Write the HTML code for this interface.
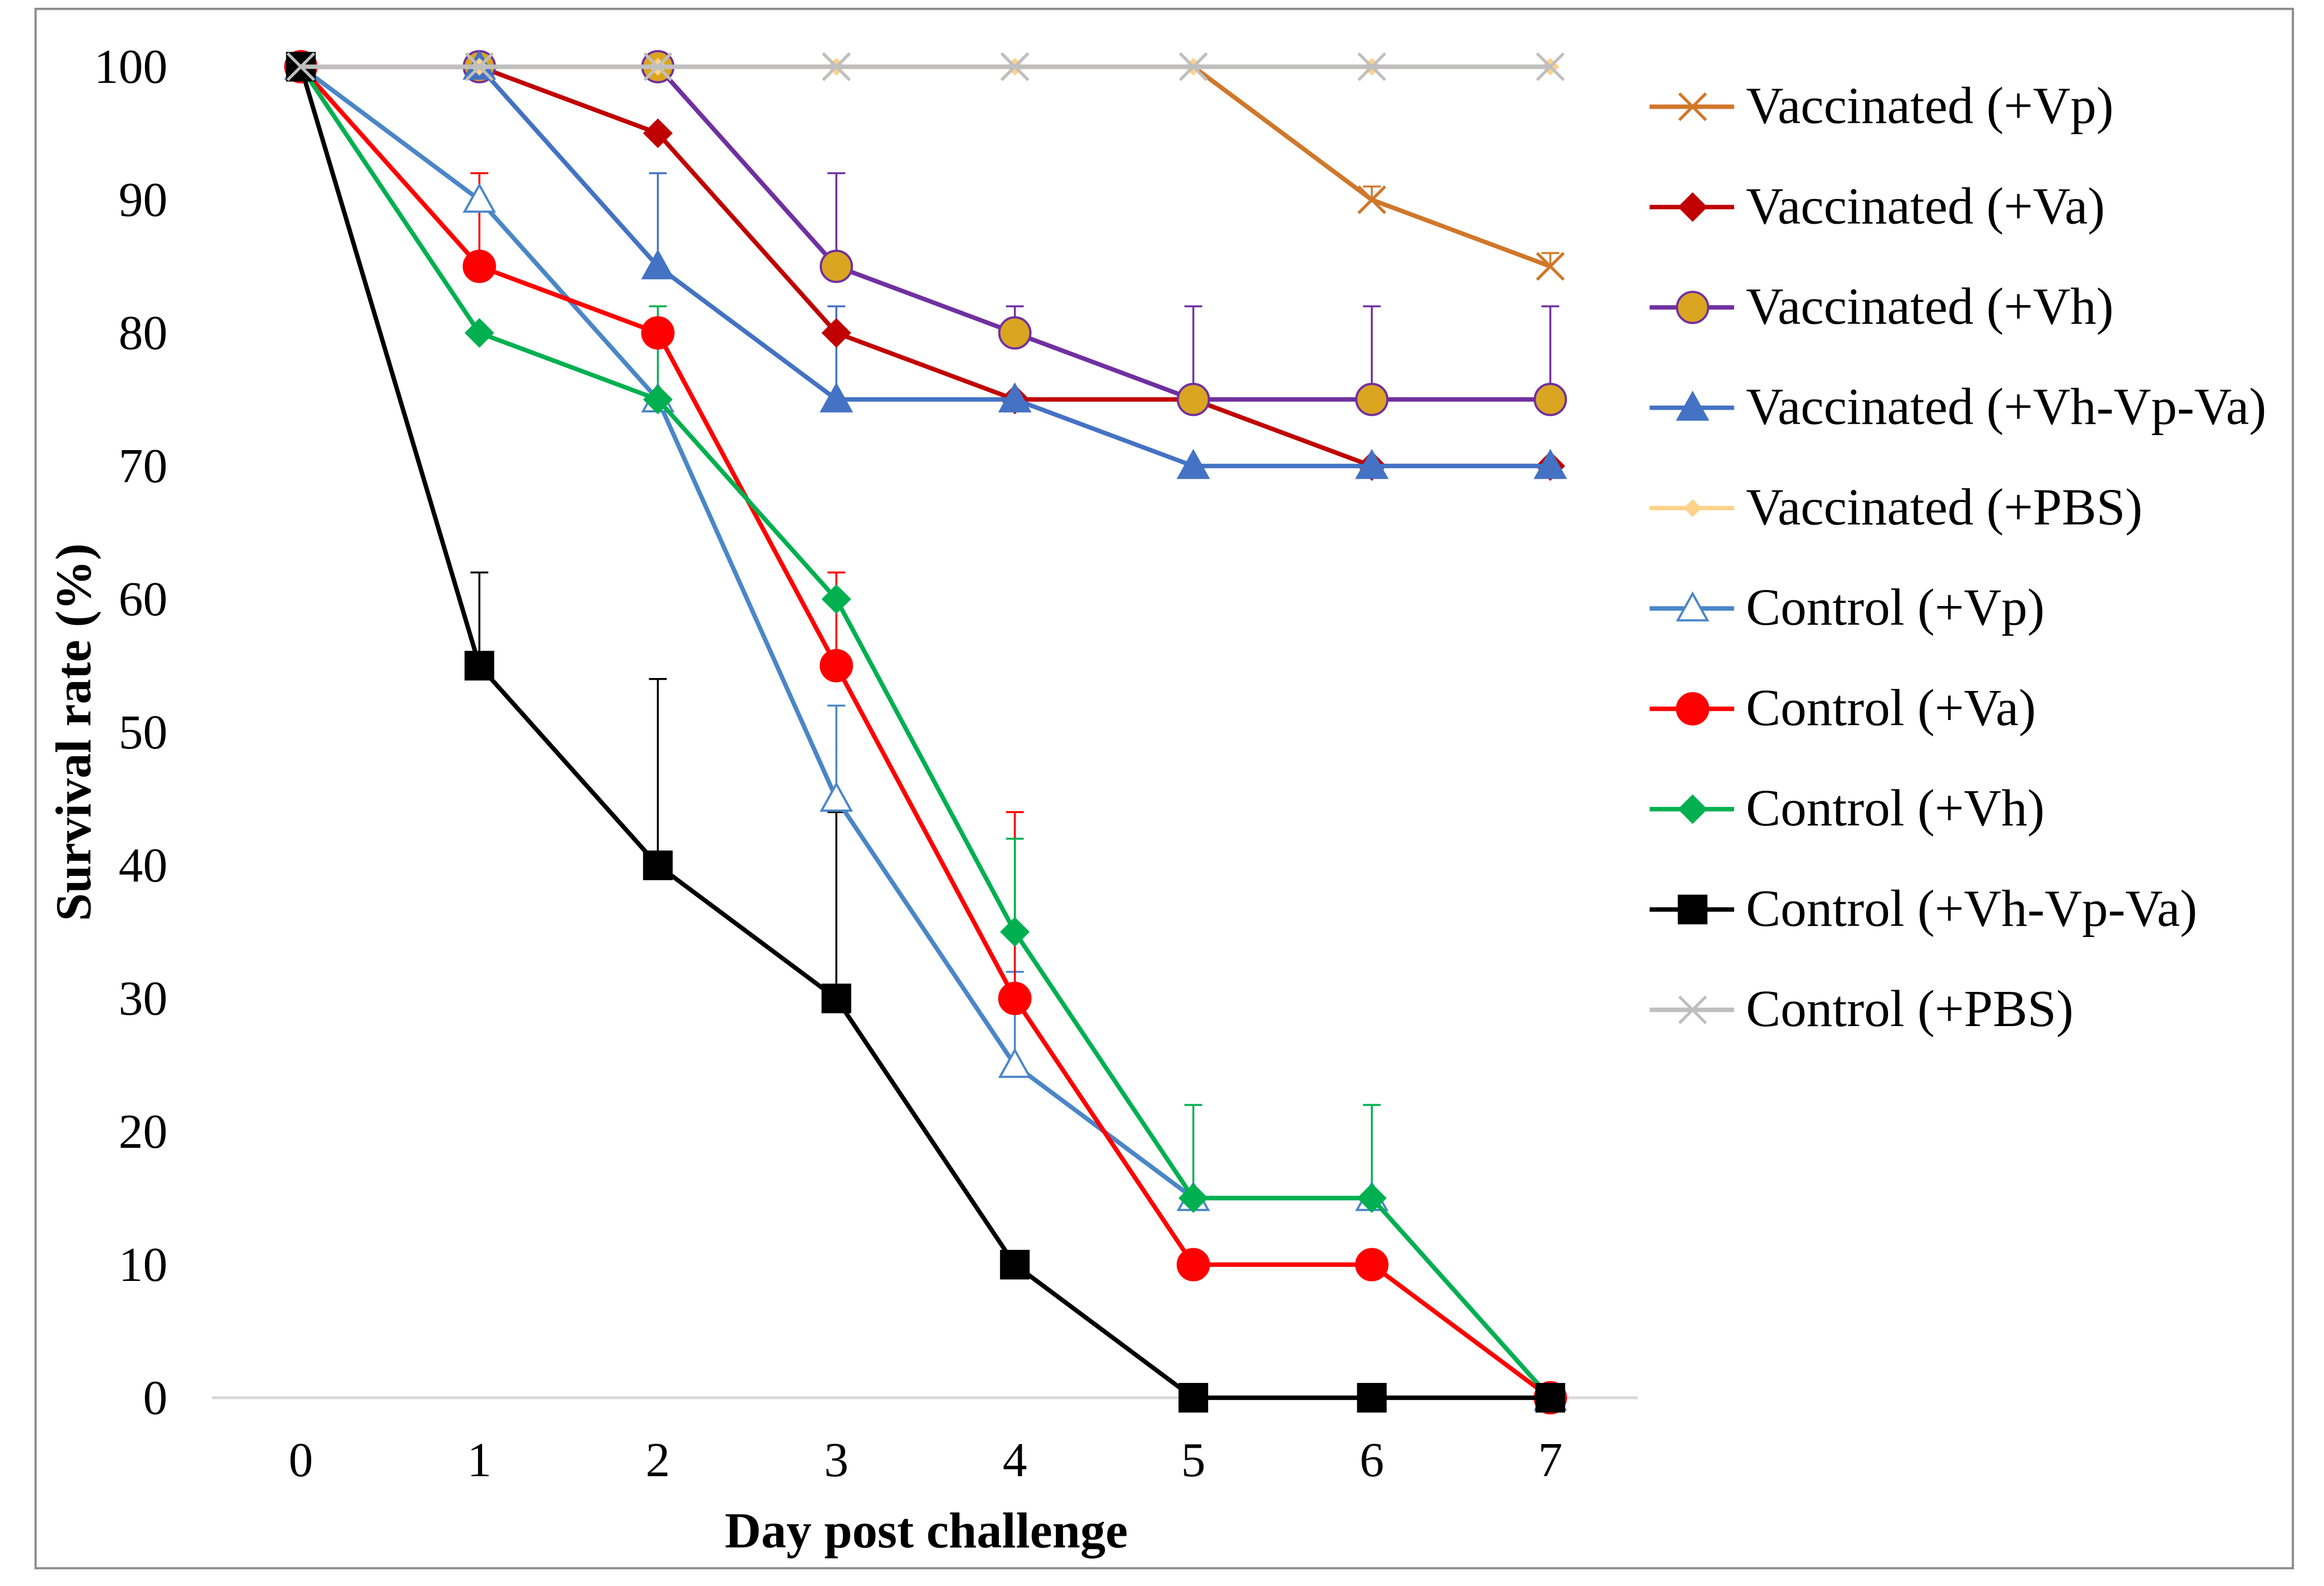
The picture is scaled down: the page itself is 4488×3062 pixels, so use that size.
<!DOCTYPE html>
<html><head><meta charset="utf-8"><style>
html,body{margin:0;padding:0;background:#fff}
svg{display:block}
text{font-family:"Liberation Serif",serif}
</style></head><body>
<svg id="chart" width="4488" height="3062" viewBox="0 0 1568 1070" preserveAspectRatio="none" xmlns="http://www.w3.org/2000/svg">
<rect x="24" y="6" width="1523" height="1052" fill="#fff" stroke="#8c8c8c" stroke-width="1.5"/>
<g id="axes"></g>
<g id="plot"></g>
<g id="legend"></g>
</svg>
<script>
const days = [0,1,2,3,4,5,6,7];
const yTicks = [0,10,20,30,40,50,60,70,80,90,100];
const seriesNames = ["Vaccinated (+Vp)","Vaccinated (+Va)","Vaccinated (+Vh)","Vaccinated (+Vh-Vp-Va)","Vaccinated (+PBS)","Control (+Vp)","Control (+Va)","Control (+Vh)","Control (+Vh-Vp-Va)","Control (+PBS)"];
const vaccVp = [100,100,100,100,100,100,90,85];
const vaccVa = [100,100,95,80,75,75,70,70];
const vaccVh = [100,100,100,85,80,75,75,75];
const vaccMix = [100,100,85,75,75,70,70,70];
const vaccPBS = [100,100,100,100,100,100,100,100];
const ctrlVp = [100,90,75,45,25,15,15,0];
const ctrlVa = [100,85,80,55,30,10,10,0];
const ctrlVh = [100,80,75,60,35,15,15,0];
const ctrlMix = [100,55,40,30,10,0,0,0];
const ctrlPBS = [100,100,100,100,100,100,100,100];
// upper error bar lengths
const errVaccVp = [0,0,0,0,0,0,1,1];
const errVaccVa = [0,0,0,0,0,0,0,0];
const errVaccVh = [0,0,0,7,2,7,7,7];
const errVaccMix = [0,0,7,7,0,0,0,0];
const errCtrlVp = [0,0,0,7,7,0,0,0];
const errCtrlVa = [0,7,0,7,14,0,0,0];
const errCtrlVh = [0,0,7,0,7,7,7,0];
const errCtrlMix = [0,7,14,14,0,0,0,0];

const styles = [
 {d:vaccVp,e:errVaccVp,c:"#D0772A",m:"x",f:"none",s:"#D0772A"},
 {d:vaccVa,e:errVaccVa,c:"#C00000",m:"diamond",f:"#C00000",s:"#C00000"},
 {d:vaccVh,e:errVaccVh,c:"#7030A0",m:"circle",f:"#DAA520",s:"#7030A0"},
 {d:vaccMix,e:errVaccMix,c:"#4472C4",m:"tri",f:"#4472C4",s:"#4472C4"},
 {d:vaccPBS,e:null,c:"#FFD28A",m:"sdiamond",f:"#FFD28A",s:"#FFD28A"},
 {d:ctrlVp,e:errCtrlVp,c:"#4A86C8",m:"tri",f:"#fff",s:"#4A86C8"},
 {d:ctrlVa,e:errCtrlVa,c:"#FF0000",m:"circle",f:"#FF0000",s:"#FF0000"},
 {d:ctrlVh,e:errCtrlVh,c:"#00B050",m:"diamond",f:"#00B050",s:"#00B050"},
 {d:ctrlMix,e:errCtrlMix,c:"#000000",m:"square",f:"#000",s:"#000"},
 {d:ctrlPBS,e:null,c:"#BFBFBF",m:"x",f:"none",s:"#BFBFBF"}
];
const NS="http://www.w3.org/2000/svg";
const X0=203, XS=(1046-203)/7, Y0=943, YS=(943-45)/100;
const xScale=d=>X0+d*XS, yScale=v=>Y0-v*YS;
function mk(tag,attrs,parent){const el=document.createElementNS(NS,tag);for(const k in attrs)el.setAttribute(k,attrs[k]);parent.appendChild(el);return el;}
const axes=document.getElementById('axes'),plot=document.getElementById('plot'),legend=document.getElementById('legend');

let ax=mk('line',{x1:143,x2:1105,y1:Y0,y2:Y0,stroke:'#d9d9d9','stroke-width':2},axes);


yTicks.forEach(t=>{const el=mk('text',{x:113,y:yScale(t)+11,'text-anchor':'end','font-size':33},axes);el.textContent=t;

});
days.forEach(d=>{const el=mk('text',{x:xScale(d),y:996,'text-anchor':'middle','font-size':33},axes);el.textContent=d;

});
let xt=mk('text',{x:625,y:1044,'text-anchor':'middle','font-size':34,'font-weight':'bold'},axes);xt.textContent='Day post challenge';


let yt=mk('text',{x:0,y:0,'text-anchor':'middle','font-size':34,'font-weight':'bold',transform:'translate(61,494) rotate(-90)'},axes);yt.textContent='Survival rate (%)';



function marker(st,x,y,parent,scale){
 const k=scale||1;let el;
 if(st.m==='x'){el=mk('path',{d:`M${x-9*k},${y-9*k}L${x+9*k},${y+9*k}M${x-9*k},${y+9*k}L${x+9*k},${y-9*k}`,stroke:st.s,'stroke-width':2,fill:'none'},parent);}
 else if(st.m==='diamond'){el=mk('path',{d:`M${x},${y-10*k}L${x+10*k},${y}L${x},${y+10*k}L${x-10*k},${y}Z`,fill:st.f},parent);}
 else if(st.m==='sdiamond'){el=mk('path',{d:`M${x},${y-6*k}L${x+6*k},${y}L${x},${y+6*k}L${x-6*k},${y}Z`,fill:st.f},parent);}
 else if(st.m==='circle'){el=mk('circle',{cx:x,cy:y,r:10.5*k,fill:st.f,stroke:st.s,'stroke-width':1.5},parent);}
 else if(st.m==='tri'){el=mk('path',{d:`M${x},${y-10*k}L${x+10*k},${y+8*k}L${x-10*k},${y+8*k}Z`,fill:st.f,stroke:st.s,'stroke-width':1.5},parent);}
 else {el=mk('rect',{x:x-10*k,y:y-10*k,width:20*k,height:20*k,fill:st.f},parent);}
 return el;
}
// error bars
styles.forEach((st,i)=>{ if(!st.e) return;
 st.d.forEach((v,j)=>{const e=st.e[j]; if(!e) return;
  const x=xScale(days[j]),y1=yScale(v),y2=yScale(v+e);
  const eb=mk('path',{d:`M${x},${y1}L${x},${y2}M${x-6},${y2}L${x+6},${y2}`,stroke:st.c,'stroke-width':1.3,fill:'none'},plot);
  
  
 });
});
styles.forEach((st,i)=>{
 const g=mk('g',{},plot);
 
 
 const pts=st.d.map((v,j)=>xScale(days[j])+','+yScale(v)).join(' ');
 const ln=mk('polyline',{points:pts,fill:'none',stroke:st.c,'stroke-width':3},g);
 
 
 st.d.forEach((v,j)=>{const m=marker(st,xScale(days[j]),yScale(v),g);
  
  });
});
// legend
seriesNames.forEach((n,i)=>{
 const st=styles[i],y=72+i*67.7;
 const g=mk('g',{},legend);
 
 
 mk('line',{x1:1113,x2:1170,y1:y,y2:y,stroke:st.c,'stroke-width':3},g);
 marker(st,1142,y,g);
 const t=mk('text',{x:1178,y:y+11,'font-size':35},g);t.textContent=n;
});
</script>
</body></html>
